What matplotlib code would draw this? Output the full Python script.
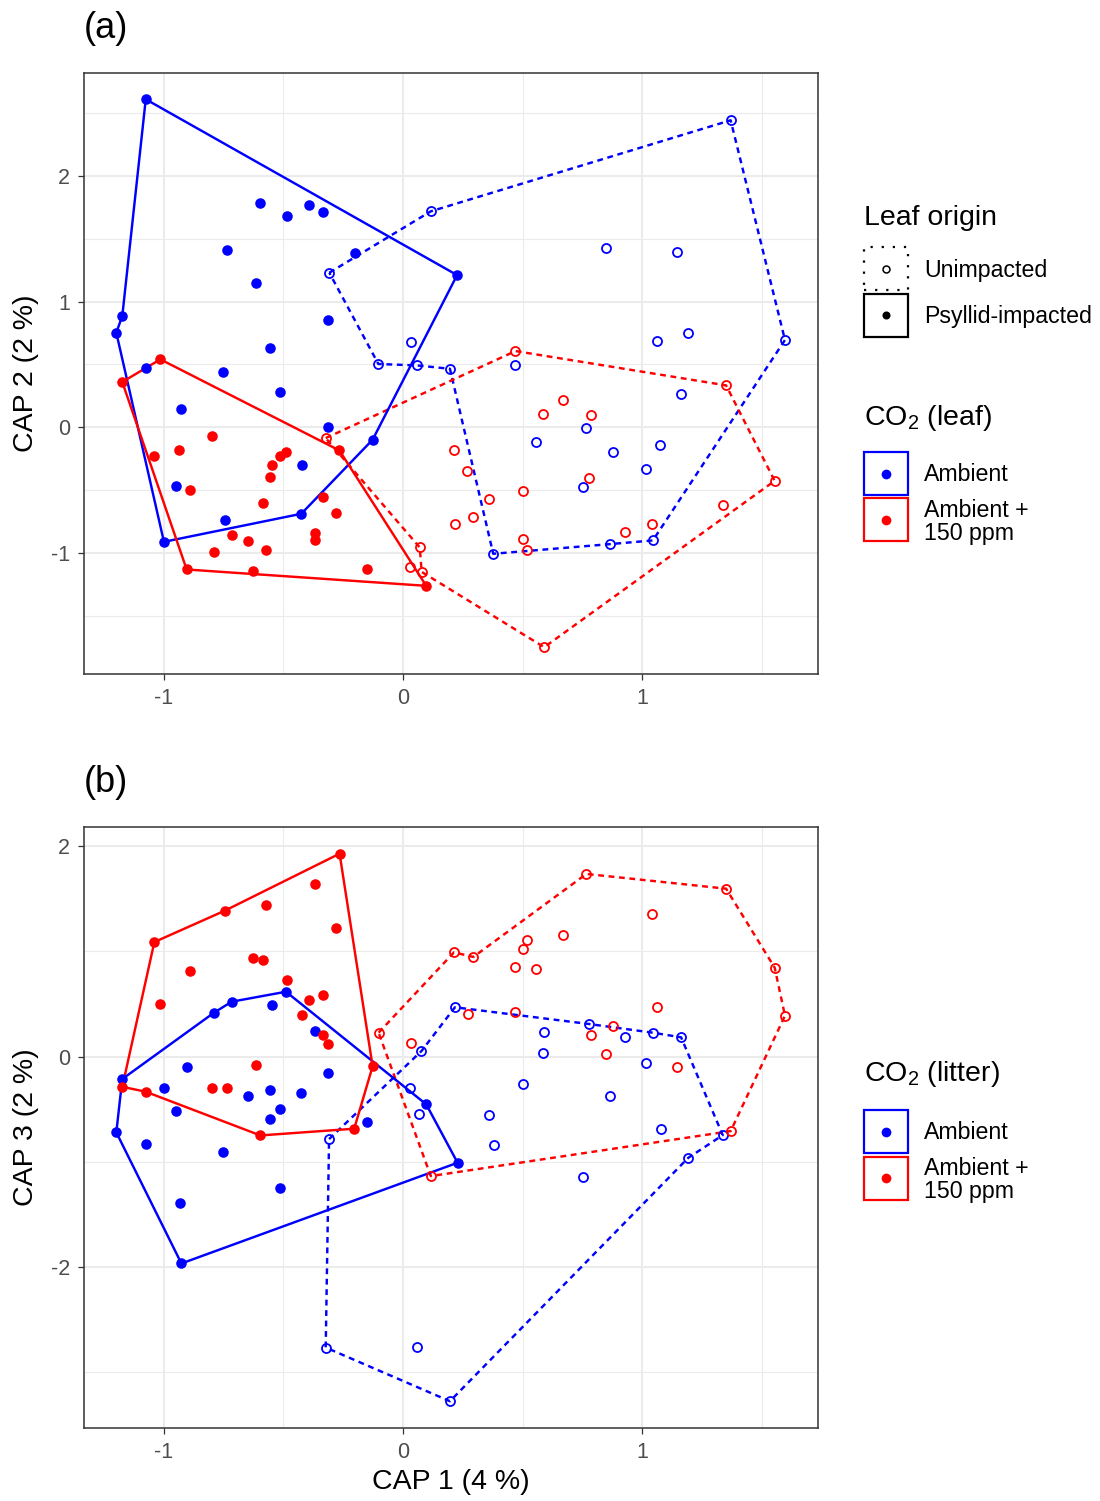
import matplotlib
matplotlib.use("Agg")
import matplotlib.pyplot as plt
from matplotlib.patches import Rectangle
from matplotlib.lines import Line2D

plt.rcParams['font.family'] = ['Liberation Sans', 'DejaVu Sans']
plt.rcParams['mathtext.fontset'] = 'custom'
plt.rcParams['mathtext.rm'] = 'Liberation Sans'
plt.rcParams['mathtext.it'] = 'Liberation Sans:italic'

# ---------------- data (hull vertices listed first, in drawing order) ----------------
# Panel (a): CAP1 vs CAP2, colour = CO2 (leaf)
a_psy_amb_x = [-1.075, 0.226, -0.127, -0.425, -0.999, -1.198, -1.173,
               -0.596, -0.485, -0.393, -0.334, -0.735, -0.202, -0.613, -0.312, -0.557,
               -1.073, -0.751, -0.515, -0.928, -0.312, -0.421, -0.949, -0.744]
a_psy_amb_y = [2.608, 1.210, -0.099, -0.688, -0.911, 0.752, 0.885,
               1.786, 1.677, 1.765, 1.712, 1.406, 1.383, 1.150, 0.853, 0.632,
               0.471, 0.439, 0.280, 0.142, 0.006, -0.298, -0.465, -0.736]
a_psy_amb_nhull = 7

a_psy_elev_x = [-1.014, -0.266, 0.097, -0.904, -1.173,
                -0.798, -1.041, -0.935, -0.488, -0.513, -0.549, -0.557, -0.889, -0.586,
                -0.334, -0.281, -0.716, -0.648, -0.571, -0.791, -0.368, -0.368, -0.626, -0.149]
a_psy_elev_y = [0.540, -0.184, -1.261, -1.131, 0.360,
                -0.068, -0.227, -0.182, -0.200, -0.232, -0.301, -0.394, -0.500, -0.601,
                -0.555, -0.683, -0.855, -0.901, -0.975, -0.988, -0.837, -0.895, -1.139, -1.126]
a_psy_elev_nhull = 5

a_unimp_amb_x = [-0.308, 0.116, 1.369, 1.596, 1.044, 0.866, 0.377, 0.196, 0.057, -0.103,
                 0.032, 0.850, 1.145, 1.061, 1.192, 0.470, 1.162, 0.766, 0.557, 0.879,
                 1.075, 1.015, 0.751]
a_unimp_amb_y = [1.229, 1.717, 2.441, 0.694, -0.900, -0.929, -1.006, 0.465, 0.492, 0.503,
                 0.678, 1.428, 1.391, 0.686, 0.749, 0.495, 0.264, -0.002, -0.115, -0.200,
                 -0.139, -0.328, -0.473]
a_unimp_amb_nhull = 10

a_unimp_elev_x = [-0.323, 0.470, 1.350, 1.553, 0.590, 0.078, 0.070,
                  0.669, 0.585, 0.784, 0.213, 0.269, 0.776, 0.500, 0.358, 0.294, 0.217,
                  1.339, 1.039, 0.929, 0.503, 0.517, 0.028]
a_unimp_elev_y = [-0.086, 0.606, 0.333, -0.426, -1.749, -1.150, -0.956,
                  0.213, 0.105, 0.097, -0.182, -0.344, -0.407, -0.503, -0.569, -0.712, -0.768,
                  -0.619, -0.770, -0.834, -0.887, -0.975, -1.110]
a_unimp_elev_nhull = 7

# Panel (b): CAP1 vs CAP3, colour = CO2 (litter)
b_psy_amb_x = [-1.173, -0.790, -0.716, -0.489, 0.097, 0.228, -0.926, -1.198,
               -0.547, -0.366, -0.904, -0.312, -0.999, -0.554, -0.425, -0.648, -0.949,
               -0.514, -0.557, -0.149, -1.073, -0.751, -0.515, -0.933]
b_psy_amb_y = [-0.214, 0.417, 0.522, 0.617, -0.455, -1.011, -1.970, -0.722,
               0.490, 0.246, -0.097, -0.157, -0.300, -0.322, -0.348, -0.376, -0.522,
               -0.500, -0.595, -0.624, -0.836, -0.906, -1.256, -1.398]
b_psy_amb_nhull = 8

b_psy_elev_x = [-0.265, -0.127, -0.204, -0.596, -1.075, -1.173, -1.039, -0.744,
                -0.366, -0.571, -0.281, -0.626, -0.585, -0.889, -0.485, -1.014, -0.393,
                -0.334, -0.421, -0.334, -0.312, -0.613, -0.798, -0.735]
b_psy_elev_y = [1.931, -0.093, -0.687, -0.751, -0.335, -0.288, 1.090, 1.389,
                1.646, 1.443, 1.221, 0.938, 0.916, 0.811, 0.729, 0.497, 0.538,
                0.583, 0.398, 0.208, 0.122, -0.078, -0.303, -0.303]
b_psy_elev_nhull = 8

b_unimp_amb_x = [-0.309, 0.077, 0.217, 0.776, 1.044, 1.162, 1.336, 1.192, 0.196, -0.323,
                 0.590, 0.585, 0.929, 1.015, 0.503, 0.865, 0.358, 1.080, 0.379, 0.751,
                 0.060, 0.028, 0.067]
b_unimp_amb_y = [-0.786, 0.052, 0.469, 0.310, 0.227, 0.183, -0.748, -0.964, -3.281, -2.770,
                 0.230, 0.036, 0.186, -0.065, -0.265, -0.379, -0.554, -0.693, -0.843, -1.150,
                 -2.767, -0.297, -0.550]
b_unimp_amb_nhull = 10

b_unimp_elev_x = [-0.102, 0.213, 0.294, 0.766, 1.350, 1.553, 1.596, 1.369, 0.116,
                  1.039, 0.669, 0.517, 0.500, 0.468, 0.557, 1.061, 0.270, 0.468, 0.879,
                  0.784, 0.848, 1.145, 0.032]
b_unimp_elev_y = [0.227, 0.992, 0.948, 1.738, 1.598, 0.846, 0.389, -0.710, -1.138,
                  1.357, 1.157, 1.107, 1.021, 0.852, 0.836, 0.474, 0.408, 0.421, 0.290,
                  0.208, 0.027, -0.100, 0.131]
b_unimp_elev_nhull = 9

x_ticks = [-1, 0, 1]
x_ticklabels = ["-1", "0", "1"]
x_minor = [-0.5, 0.5, 1.5]
a_yticks = [-1, 0, 1, 2]
a_yticklabels = ["-1", "0", "1", "2"]
a_yminor = [-1.5, -0.5, 0.5, 1.5, 2.5]
b_yticks = [-2, 0, 2]
b_yticklabels = ["-2", "0", "2"]
b_yminor = [-3, -1, 1]

co2_labels = ["Ambient", "Ambient +\n150 ppm"]
origin_labels = ["Unimpacted", "Psyllid-impacted"]

# ---------------- styling ----------------
W, H = 1100, 1501
BLUE, RED = "#0000FF", "#FF0000"
DOT = (0, (2.4, 1.9))
LW = 1.75
TITLE_FS = 20.5
TEXT_FS = 16.7
TICK_FS = 15.5
fig = plt.figure(figsize=(W / 100, H / 100), dpi=100)


def fx(px):
    return px / W


def fy(py):
    return 1 - py / H


def draw_group(ax, xs, ys, nh, color, filled):
    hx = list(xs[:nh]) + [xs[0]]
    hy = list(ys[:nh]) + [ys[0]]
    ax.plot(hx, hy, color=color, lw=LW, ls='-' if filled else DOT,
            solid_capstyle='butt', dash_capstyle='butt', zorder=3)
    if filled:
        ax.plot(xs, ys, ls='none', marker='o', ms=7.6, mfc=color, mec=color, mew=0, zorder=4)
    else:
        ax.plot(xs, ys, ls='none', marker='o', ms=6.5, mfc='none', mec=color, mew=1.3, zorder=4)


def style_axes(ax, xlim, ylim, yt, ytl, ymin):
    ax.set_xlim(*xlim)
    ax.set_ylim(*ylim)
    ax.set_xticks(x_ticks)
    ax.set_xticklabels(x_ticklabels)
    ax.set_xticks(x_minor, minor=True)
    ax.set_yticks(yt)
    ax.set_yticklabels(ytl)
    ax.set_yticks(ymin, minor=True)
    ax.grid(True, which='major', color='#EBEBEB', lw=1.5, zorder=0)
    ax.grid(True, which='minor', color='#EBEBEB', lw=0.8, zorder=0)
    ax.set_axisbelow(True)
    ax.tick_params(which='major', length=4, width=0.9, color='#333333',
                   labelcolor='#4D4D4D', labelsize=TICK_FS)
    ax.tick_params(axis='x', which='major', pad=6)
    ax.tick_params(axis='y', which='major', pad=6)
    ax.tick_params(which='minor', length=0)
    for s in ax.spines.values():
        s.set_color('#333333')
        s.set_linewidth(1.1)


ax_a = fig.add_axes([fx(84), fy(674), fx(734), 601 / H])
draw_group(ax_a, a_unimp_amb_x, a_unimp_amb_y, a_unimp_amb_nhull, BLUE, False)
draw_group(ax_a, a_unimp_elev_x, a_unimp_elev_y, a_unimp_elev_nhull, RED, False)
draw_group(ax_a, a_psy_amb_x, a_psy_amb_y, a_psy_amb_nhull, BLUE, True)
draw_group(ax_a, a_psy_elev_x, a_psy_elev_y, a_psy_elev_nhull, RED, True)
style_axes(ax_a, (-1.333, 1.734), (-1.962, 2.817), a_yticks, a_yticklabels, a_yminor)
ax_a.set_ylabel("CAP 2 (2 %)", fontsize=TITLE_FS, va='center')
ax_a.yaxis.set_label_coords((26 - 84) / 734, 0.5)

ax_b = fig.add_axes([fx(84), fy(1428), fx(734), 601 / H])
draw_group(ax_b, b_unimp_amb_x, b_unimp_amb_y, b_unimp_amb_nhull, BLUE, False)
draw_group(ax_b, b_unimp_elev_x, b_unimp_elev_y, b_unimp_elev_nhull, RED, False)
draw_group(ax_b, b_psy_amb_x, b_psy_amb_y, b_psy_amb_nhull, BLUE, True)
draw_group(ax_b, b_psy_elev_x, b_psy_elev_y, b_psy_elev_nhull, RED, True)
style_axes(ax_b, (-1.333, 1.734), (-3.536, 2.185), b_yticks, b_yticklabels, b_yminor)
ax_b.set_ylabel("CAP 3 (2 %)", fontsize=TITLE_FS, va='center')
ax_b.yaxis.set_label_coords((26 - 84) / 734, 0.5)
ax_b.set_xlabel("CAP 1 (4 %)", fontsize=TITLE_FS, va='center')
ax_b.xaxis.set_label_coords(0.5, (1428 - 1482) / 601)

# panel tags
fig.text(fx(84), fy(29), "(a)", fontsize=26, ha='left', va='center')
fig.text(fx(84), fy(782), "(b)", fontsize=26, ha='left', va='center')


# ---------------- legends (drawn in figure pixel space) ----------------
def key_box(x0, y0, edge, ls='-', lw=1.6):
    r = Rectangle((fx(x0), fy(y0 + 43)), 44 / W, 43 / H, transform=fig.transFigure,
                  fill=False, edgecolor=edge, lw=lw, ls=ls)
    fig.add_artist(r)


def key_dot(xc, yc, color, filled, ms):
    m = Line2D([fx(xc)], [fy(yc)], transform=fig.transFigure, ls='none', marker='o', ms=ms,
               mfc=color if filled else 'none', mec=color, mew=0 if filled else 1.1)
    fig.add_artist(m)


LX, TX = 863.5, 924
# Leaf origin legend
fig.text(fx(LX), fy(218), "Leaf origin", fontsize=TITLE_FS, ha='left', va='center')
key_box(LX, 247, 'black', ls=(0, (1, 4)), lw=1.6)
key_dot(LX + 22, 268.5, 'black', False, 5.0)
fig.text(fx(TX), fy(270), origin_labels[0], fontsize=TEXT_FS, ha='left', va='center')
key_box(LX, 293.5, 'black', ls='-', lw=1.6)
key_dot(LX + 22, 315, 'black', True, 5.8)
fig.text(fx(TX), fy(316), origin_labels[1], fontsize=TEXT_FS, ha='left', va='center')


def co2_legend(title, ty, y1):
    fig.text(fx(LX), fy(ty), title, fontsize=TITLE_FS, ha='left', va='center')
    key_box(LX, y1, BLUE, lw=1.6)
    key_dot(LX + 22, y1 + 21.5, BLUE, True, 7.0)
    fig.text(fx(TX), fy(y1 + 22.5), co2_labels[0], fontsize=TEXT_FS, ha='left', va='center')
    key_box(LX, y1 + 46.5, RED, lw=1.6)
    key_dot(LX + 22, y1 + 68, RED, True, 7.0)
    fig.text(fx(TX), fy(y1 + 70), co2_labels[1], fontsize=TEXT_FS, ha='left', va='center',
             linespacing=1.0)


co2_legend(r"CO$_\mathrm{2}$ (leaf)", 418, 452)
co2_legend(r"CO$_\mathrm{2}$ (litter)", 1074, 1110)

fig.savefig("out.png", dpi=100)
